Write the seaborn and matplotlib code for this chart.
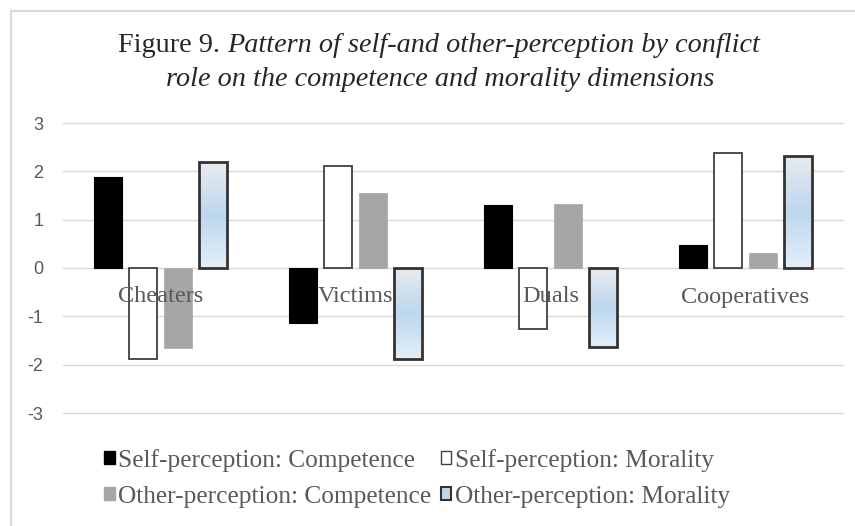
import numpy as np
import pandas as pd
import matplotlib
matplotlib.use("Agg")
import matplotlib.pyplot as plt
import seaborn as sns
from matplotlib.colors import LinearSegmentedColormap
from matplotlib.lines import Line2D
from matplotlib.patches import Patch

# data
roles = ["Cheaters", "Victims", "Duals", "Cooperatives"]
series = ["Self-perception: Competence", "Self-perception: Morality",
          "Other-perception: Competence", "Other-perception: Morality"]
self_competence = [1.89, -1.14, 1.31, 0.47]
self_morality = [-1.88, 2.10, -1.26, 2.38]
other_competence = [-1.65, 1.56, 1.33, 0.31]
other_morality = [2.20, -1.89, -1.63, 2.32]
yticks = [3, 2, 1, 0, -1, -2, -3]

rows = []
for name, vals in zip(series, [self_competence, self_morality, other_competence, other_morality]):
    for role, v in zip(roles, vals):
        rows.append({"role": role, "series": name, "value": v})
df = pd.DataFrame(rows)

sns.set_theme(style="white")
plt.rcParams['font.family'] = ['Liberation Serif', 'DejaVu Serif']

fig = plt.figure(figsize=(8.55, 5.26), dpi=100)
ax = fig.add_axes([63 / 855, 1 - 413 / 526, 780 / 855, 290 / 526])

sns.barplot(data=df, x="role", y="value", hue="series", hue_order=series,
            order=roles, width=0.72, gap=0.2, ax=ax, legend=False,
            errorbar=None, palette=["black"] * 4)

styles = [
    dict(facecolor="black", edgecolor="black", linewidth=0.8),
    dict(facecolor="white", edgecolor="#404040", linewidth=1.3),
    dict(facecolor="#A6A6A6", edgecolor="#A6A6A6", linewidth=0.5),
    dict(facecolor="none", edgecolor="#333333", linewidth=2.0),
]
grad = LinearSegmentedColormap.from_list("om", ["#E9EBEF", "#BDD7EE", "#E3EEF9"])
for cont, st in zip(ax.containers, styles):
    for bar in cont:
        bar.set(**st)
        bar.set_zorder(3)
        if st["facecolor"] == "none":
            # gradient fill clipped to the bar
            x0, y0 = bar.get_x(), bar.get_y()
            w, h = bar.get_width(), bar.get_height()
            lo, hi = min(y0, y0 + h), max(y0, y0 + h)
            im = ax.imshow(np.linspace(0, 1, 100).reshape(-1, 1), cmap=grad,
                           extent=[x0, x0 + w, lo, hi], aspect="auto",
                           origin="upper", zorder=2.5)
            im.set_clip_path(bar)

ax.set_xlim(-0.5, 3.5)
ax.set_ylim(-3, 3)
ax.set_yticks(yticks)
ax.set_yticklabels([str(t) for t in yticks], color="#595959", fontsize=13,
                   family=["Liberation Sans", "DejaVu Sans"])
ax.tick_params(axis="y", length=0, pad=14)
ax.set_xticks([])
ax.set_xlabel("")
ax.set_ylabel("")
ax.grid(axis="y", color="#D9D9D9", linewidth=1)
for gl in ax.get_ygridlines():
    gl.set_clip_on(False)
ax.set_axisbelow(True)
for s in ax.spines.values():
    s.set_visible(False)

for i, role in enumerate(roles):
    ax.text(i, -0.6, role, ha="center", va="center", fontsize=17.5,
            color="#595959", zorder=4)

# title: regular "Figure 9." then italic rest
t1 = fig.text(118 / 855, 1 - 45 / 526, "Figure 9. ", fontsize=20.3, ha="left", va="center")
fig.canvas.draw()
bb = t1.get_window_extent()
fig.text(bb.x1 / 855, 1 - 45 / 526, "Pattern of self-and other-perception by conflict",
         fontsize=20.3, style="italic", ha="left", va="center")
fig.text(440 / 855, 1 - 80 / 526, "role on the competence and morality dimensions",
         fontsize=20.3, style="italic", ha="center", va="center")

handles = [
    Patch(facecolor="black", edgecolor="black"),
    Patch(facecolor="white", edgecolor="#404040", linewidth=1.0),
    Patch(facecolor="#A6A6A6", edgecolor="#A6A6A6"),
    Patch(facecolor="#BDD7EE", edgecolor="#333333", linewidth=1.5),
]
order = [0, 2, 1, 3]
fig.legend([handles[i] for i in order], [series[i] for i in order],
           loc="upper left", bbox_to_anchor=(104 / 855, 1 - 449 / 526),
           ncol=2, frameon=False, fontsize=18.3, handlelength=0.42, handleheight=0.42,
           handletextpad=0.15, columnspacing=0.35, labelspacing=0.55,
           labelcolor="#595959", borderaxespad=0, borderpad=0)

fig.add_artist(Line2D([11 / 855, 1], [1 - 11 / 526, 1 - 11 / 526], color="#D9D9D9", lw=1.5))
fig.add_artist(Line2D([11 / 855, 11 / 855], [0, 1 - 11 / 526], color="#D9D9D9", lw=1.5))

fig.savefig("out.png", dpi=100)
